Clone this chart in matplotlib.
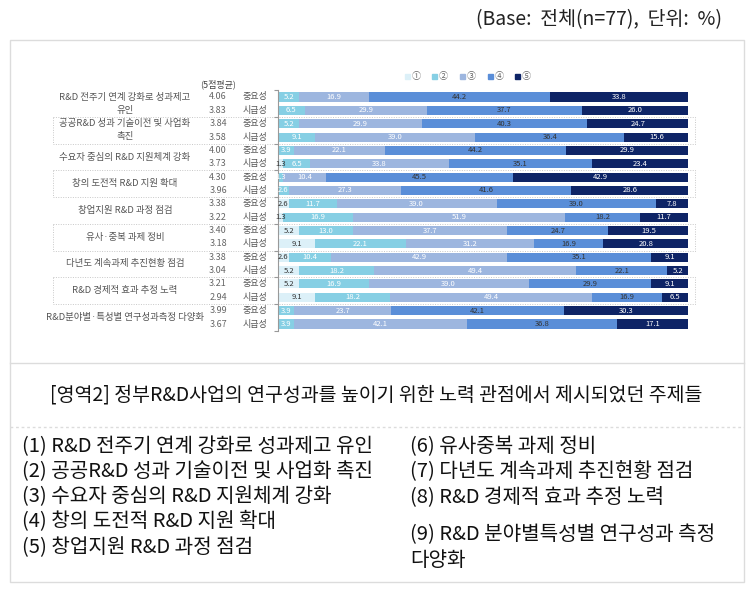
import matplotlib
matplotlib.use("Agg")
import matplotlib.pyplot as plt
import matplotlib.transforms as mtransforms
from matplotlib.patches import Rectangle
from matplotlib.lines import Line2D

plt.rcParams['font.family'] = ['Noto Sans CJK KR', 'DejaVu Sans']

# data
categories = [
    "R&D 전주기 연계 강화로 성과제고\n유인",
    "공공R&D 성과 기술이전 및 사업화\n촉진",
    "수요자 중심의 R&D 지원체계 강화",
    "창의 도전적 R&D 지원 확대",
    "창업지원 R&D 과정 점검",
    "유사·중복 과제 정비",
    "다년도 계속과제 추진현황 점검",
    "R&D 경제적 효과 추정 노력",
    "R&D분야별·특성별 연구성과측정 다양화",
]
row_kinds = ["중요성", "시급성"]
means = [4.06, 3.83, 3.84, 3.58, 4.00, 3.73, 4.30, 3.96, 3.38, 3.22,
         3.40, 3.18, 3.38, 3.04, 3.21, 2.94, 3.99, 3.67]
legend_labels = ["①", "②", "③", "④", "⑤"]
s1 = [0, 0, 0, 0, 0, 1.3, 0, 0, 2.6, 1.3, 5.2, 9.1, 2.6, 5.2, 5.2, 9.1, 0, 0]
s2 = [5.2, 6.5, 5.2, 9.1, 3.9, 6.5, 1.3, 2.6, 11.7, 16.9, 13.0, 22.1, 10.4, 18.2, 16.9, 18.2, 3.9, 3.9]
s3 = [16.9, 29.9, 29.9, 39.0, 22.1, 33.8, 10.4, 27.3, 39.0, 51.9, 37.7, 31.2, 42.9, 49.4, 39.0, 49.4, 23.7, 42.1]
s4 = [44.2, 37.7, 40.3, 36.4, 44.2, 35.1, 45.5, 41.6, 39.0, 18.2, 24.7, 16.9, 35.1, 22.1, 29.9, 16.9, 42.1, 36.8]
s5 = [33.8, 26.0, 24.7, 15.6, 29.9, 23.4, 42.9, 28.6, 7.8, 11.7, 19.5, 20.8, 9.1, 5.2, 9.1, 6.5, 30.3, 17.1]
series = [s1, s2, s3, s4, s5]

topics_left = [
    "(1) R&D 전주기 연계 강화로 성과제고 유인",
    "(2) 공공R&D 성과 기술이전 및 사업화 촉진",
    "(3) 수요자 중심의 R&D 지원체계 강화",
    "(4) 창의 도전적 R&D 지원 확대",
    "(5) 창업지원 R&D 과정 점검",
]
topics_right = [
    "(6) 유사중복 과제 정비",
    "(7) 다년도 계속과제 추진현황 점검",
    "(8) R&D 경제적 효과 추정 노력",
    "(9) R&D 분야별특성별 연구성과 측정",
    "다양화",
]

colors = ["#dcf0f8", "#86cfe4", "#9db6df", "#5a8ed8", "#0e2466"]
text_colors = ["#333333", "white", "white", "#333333", "white"]

W, H = 755, 589
fig = plt.figure(figsize=(W / 100, H / 100), dpi=100)


def fx(px):
    return px / W


def fy(py):
    return 1 - py / H


# outer frame and separators
fig.patches.append(Rectangle((fx(10), fy(582)), fx(734), 542 / H, transform=fig.transFigure,
                             fill=False, edgecolor="#dcdcdc", lw=1))
fig.lines.append(Line2D([fx(10), fx(744)], [fy(363), fy(363)], transform=fig.transFigure,
                        color="#dcdcdc", lw=1))
fig.lines.append(Line2D([fx(10), fx(744)], [fy(427), fy(427)], transform=fig.transFigure,
                        color="#dcdcdc", lw=1, ls=(0, (2, 2))))

fig.text(fx(722), fy(20), "(Base:  전체(n=77),  단위:  %)", ha="right", va="center",
         fontsize=14, color="#222222")

# bar chart
ax = fig.add_axes([fx(278), fy(330.7), fx(410), 240.4 / H])
n = len(means)
ypos = list(range(n))
left = [0] * n
for k, vals in enumerate(series):
    ax.barh(ypos, vals, left=left, height=0.68, color=colors[k], edgecolor="none")
    for i, v in enumerate(vals):
        if v > 0:
            ax.text(left[i] + v / 2, i, f"{v:.1f}", ha="center", va="center",
                    fontsize=5.5, color=text_colors[k])
    left = [a + b for a, b in zip(left, vals)]

ax.set_xlim(0, 100)
ax.set_ylim(n - 0.5, -0.5)
ax.set_xticks([])
ax.set_yticks([g - 0.5 for g in range(0, n + 1, 2)])
ax.set_yticklabels([])
ax.tick_params(axis="y", length=3, color="#999999", width=0.8)
for sp in ["top", "right", "bottom"]:
    ax.spines[sp].set_visible(False)
ax.spines["left"].set_color("#999999")
ax.spines["left"].set_linewidth(0.8)
ax.patch.set_alpha(0)

trans = mtransforms.blended_transform_factory(fig.transFigure, ax.transData)
for i in range(n):
    ax.text(fx(218), i, f"{means[i]:.2f}", transform=trans, ha="center", va="center",
            fontsize=6.5, color="#666666")
    ax.text(fx(255), i, row_kinds[i % 2], transform=trans, ha="center", va="center",
            fontsize=6.5, color="#555555")
for g, cat in enumerate(categories):
    ax.text(fx(125), 2 * g + 0.5, cat, transform=trans, ha="center", va="center",
            fontsize=6.8, color="#555555", linespacing=1.55)
    if g % 2 == 1:
        ax.add_patch(Rectangle((fx(53), 2 * g - 0.5), fx(642), 2, transform=trans,
                               fill=False, edgecolor="#c8c8c8", lw=0.7, ls=(0, (1, 1.5)),
                               clip_on=False))

ax.text(fx(218), -0.95, "(5점평균)", transform=trans, ha="center", va="center",
        fontsize=6.5, color="#444444")

# legend
leg_x = [405, 432, 460, 488, 515]
for k, lab in enumerate(legend_labels):
    fig.patches.append(Rectangle((fx(leg_x[k]), fy(79)), fx(5), 5 / H, transform=fig.transFigure,
                                 color=colors[k]))
    fig.text(fx(leg_x[k] + 7), fy(76.5), lab, ha="left", va="center", fontsize=6.5, color="#666666")

# caption and topic list
fig.text(fx(376), fy(395), "[영역2] 정부R&D사업의 연구성과를 높이기 위한 노력 관점에서 제시되었던 주제들",
         ha="center", va="center", fontsize=14, color="#111111")
left_y = [447, 472, 497, 522, 548]
for i, t in enumerate(topics_left):
    fig.text(fx(22), fy(left_y[i]), t, ha="left", va="center", fontsize=14.5, color="#111111")
right_y = [447, 472, 497, 535, 560]
for i, t in enumerate(topics_right):
    fig.text(fx(410), fy(right_y[i]), t, ha="left", va="center", fontsize=14.5, color="#111111")

fig.savefig("out.png", dpi=100, facecolor="white")
